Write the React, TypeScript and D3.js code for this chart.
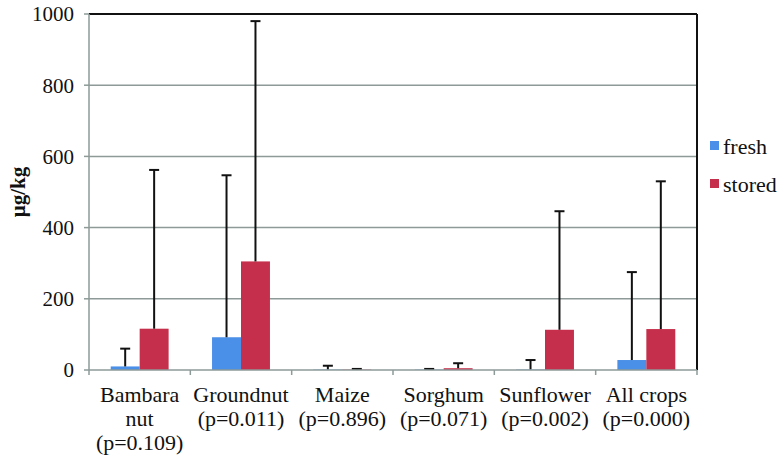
import React from "react";
import * as d3 from "d3";

const categories = ["Bambara nut", "Groundnut", "Maize", "Sorghum", "Sunflower", "All crops"];
const categoryLabels = [
  ["Bambara", "nut", "(p=0.109)"],
  ["Groundnut", "(p=0.011)"],
  ["Maize", "(p=0.896)"],
  ["Sorghum", "(p=0.071)"],
  ["Sunflower", "(p=0.002)"],
  ["All crops", "(p=0.000)"],
];
const seriesNames = ["fresh", "stored"];
const freshValues = [10, 92, 1, 1, 1, 28];
const freshErrTop = [60, 547, 12, 3, 28, 275];
const storedValues = [116, 305, 1, 5, 113, 115];
const storedErrTop = [562, 980, 3, 19, 446, 530];
const yTicks = [0, 200, 400, 600, 800, 1000];
const colors = ["#4a8fe8", "#c62f4b"];

const FONT = '"Liberation Serif", "Times New Roman", serif';

export default function App() {
  const W = 780, H = 460;
  const left = 89, right = 697, top = 14, bottom = 370;
  const x = d3.scaleBand<string>().domain(categories).range([left, right]).paddingInner(0).paddingOuter(0);
  const y = d3.scaleLinear().domain([0, 1000]).range([bottom, top]);
  const bw = x.bandwidth() / 3.5;
  const series = [
    { name: seriesNames[0], vals: freshValues, err: freshErrTop, color: colors[0] },
    { name: seriesNames[1], vals: storedValues, err: storedErrTop, color: colors[1] },
  ];
  const grid = "#8d9a98";
  const fsTick = 21;
  const fs = 22;
  return (
    <svg width={W} height={H} style={{ position: "absolute", left: 0, top: 0, background: "#fff" }} fontFamily={FONT}>
      {yTicks.filter(t => t > 0 && t < 1000).map(t => (
        <line key={t} x1={left} x2={right} y1={y(t)} y2={y(t)} stroke={grid} strokeWidth={1.5} />
      ))}
      {series.map((s, si) =>
        categories.map((c, i) => {
          const x0 = (x(c) as number) + x.bandwidth() / 2 - bw + si * bw;
          return (
            <rect key={s.name + c} x={x0} y={y(s.vals[i])} width={bw} height={y(0) - y(s.vals[i])} fill={s.color} />
          );
        })
      )}
      {series.map((s, si) =>
        categories.map((c, i) => {
          const cx = (x(c) as number) + x.bandwidth() / 2 - bw + si * bw + bw / 2;
          return (
            <g key={"e" + s.name + c} stroke="#111" strokeWidth={2}>
              <line x1={cx} x2={cx} y1={y(s.vals[i])} y2={y(s.err[i])} />
              <line x1={cx - 5} x2={cx + 5} y1={y(s.err[i])} y2={y(s.err[i])} />
            </g>
          );
        })
      )}
      <line x1={left} x2={right} y1={top} y2={top} stroke="#111" strokeWidth={2} />
      <line x1={right} x2={right} y1={top} y2={bottom} stroke="#111" strokeWidth={2} />
      <line x1={left} x2={left} y1={top} y2={bottom} stroke={grid} strokeWidth={1.5} />
      <line x1={left} x2={right} y1={bottom} y2={bottom} stroke={grid} strokeWidth={1.5} />
      {yTicks.map(t => (
        <g key={"t" + t}>
          <line x1={left - 5} x2={left} y1={y(t)} y2={y(t)} stroke={grid} strokeWidth={1.5} />
          <text x={left - 15} y={y(t)} dy="0.35em" textAnchor="end" fontSize={fsTick} fill="#111">{t}</text>
        </g>
      ))}
      {categories.map((c) => (
        <line key={"xt" + c} x1={x(c) as number} x2={x(c) as number} y1={bottom} y2={bottom + 5} stroke={grid} strokeWidth={1.5} />
      ))}
      <line x1={right} x2={right} y1={bottom} y2={bottom + 5} stroke={grid} strokeWidth={1.5} />
      {categories.map((c, i) => (
        <text key={"xl" + c} x={(x(c) as number) + x.bandwidth() / 2} y={402} textAnchor="middle" fontSize={fs} fill="#111">
          {categoryLabels[i].map((l, j) => (
            <tspan key={j} x={(x(c) as number) + x.bandwidth() / 2} dy={j === 0 ? 0 : 24}>{l}</tspan>
          ))}
        </text>
      ))}
      <text transform={`translate(25, ${(top + bottom) / 2}) rotate(-90)`} textAnchor="middle" fontSize={fsTick} fontWeight="bold" fill="#111">µg/kg</text>
      {series.map((s, i) => (
        <g key={"lg" + s.name} transform={`translate(710, ${146 + i * 38})`}>
          <rect x={0} y={-5} width={9} height={9} fill={s.color} />
          <text x={13} y={0} dy="0.35em" fontSize={fs} fill="#111">{s.name}</text>
        </g>
      ))}
    </svg>
  );
}
